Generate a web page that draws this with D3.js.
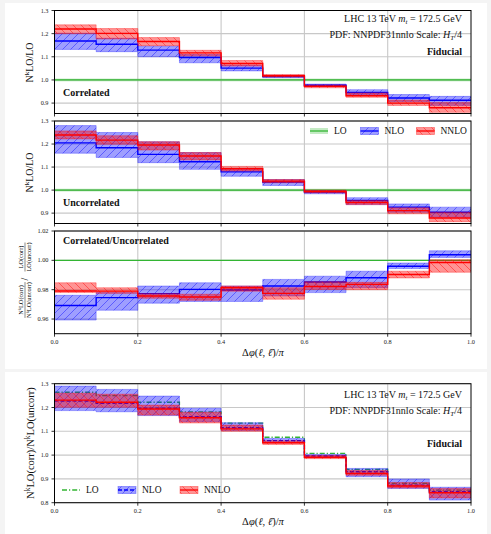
<!DOCTYPE html>
<html>
<head>
<meta charset="utf-8">
<script src="https://cdn.jsdelivr.net/npm/d3@7"></script>
<style>
  body { margin: 0; background: #f4f4f4; }
  svg { display: block; font-family: "Liberation Serif", "DejaVu Serif", serif; }
</style>
</head>
<body>
<svg id="chart" width="491" height="534"></svg>
<script>
// --- DATOS ---
const binEdges = [0, 0.1, 0.2, 0.3, 0.4, 0.5, 0.6, 0.7, 0.8, 0.9, 1.0];
const xTicks = [0, 0.2, 0.4, 0.6, 0.8, 1.0];
const ratioTicks = [0.9, 1.0, 1.1, 1.2, 1.3];
const corrTicks = [0.96, 0.98, 1.00, 1.02];
const fidTicks = [0.8, 0.9, 1.0, 1.1, 1.2, 1.3];

// [central, low, high] per bin
const corrNLO = [[1.168, 1.132, 1.202], [1.154, 1.122, 1.180], [1.129, 1.100, 1.146], [1.097, 1.074, 1.110], [1.051, 1.039, 1.064],
                 [1.015, 1.010, 1.020], [0.977, 0.971, 0.982], [0.946, 0.935, 0.958], [0.922, 0.907, 0.937], [0.912, 0.890, 0.929]];
const corrNNLO = [[1.220, 1.200, 1.238], [1.201, 1.177, 1.222], [1.166, 1.148, 1.183], [1.117, 1.104, 1.128], [1.071, 1.060, 1.084],
                  [1.018, 1.013, 1.023], [0.972, 0.966, 0.978], [0.932, 0.925, 0.944], [0.900, 0.890, 0.913], [0.880, 0.860, 0.903]];
const uncorrNLO = [[1.205, 1.160, 1.280], [1.184, 1.142, 1.250], [1.155, 1.119, 1.210], [1.123, 1.090, 1.163], [1.079, 1.060, 1.093],
                   [1.035, 1.020, 1.046], [0.991, 0.984, 0.998], [0.955, 0.937, 0.967], [0.926, 0.904, 0.940], [0.904, 0.882, 0.926]];
const uncorrNNLO = [[1.239, 1.222, 1.257], [1.217, 1.199, 1.236], [1.196, 1.174, 1.210], [1.148, 1.131, 1.163], [1.093, 1.083, 1.103],
                    [1.039, 1.032, 1.046], [0.994, 0.988, 1.000], [0.946, 0.937, 0.955], [0.911, 0.897, 0.923], [0.879, 0.863, 0.904]];
const ratioNLO = [[0.9692, 0.9593, 0.9762], [0.9746, 0.9660, 0.9780], [0.9773, 0.9708, 0.9825], [0.9802, 0.9720, 0.9847], [0.9798, 0.9720, 0.9825],
                  [0.9825, 0.9757, 0.9870], [0.9852, 0.9780, 0.9892], [0.9881, 0.9813, 0.9926], [0.9960, 0.9944, 0.9982], [1.0038, 1.0020, 1.0065]];
const ratioNNLO = [[0.9791, 0.9780, 0.9847], [0.9790, 0.9775, 0.9813], [0.9757, 0.9742, 0.9773], [0.9750, 0.9728, 0.9769], [0.9813, 0.9790, 0.9825],
                   [0.9775, 0.9735, 0.9813], [0.9822, 0.9802, 0.9854], [0.9836, 0.9800, 0.9850], [0.9903, 0.9880, 0.9926], [0.9985, 0.9919, 1.0004]];
const fidLO = [1.264, 1.250, 1.222, 1.182, 1.134, 1.075, 1.007, 0.940, 0.881, 0.853];
const fidNLO = [[1.227, 1.187, 1.290], [1.218, 1.182, 1.276], [1.197, 1.166, 1.248], [1.161, 1.140, 1.197], [1.115, 1.103, 1.136],
                [1.061, 1.052, 1.070], [0.996, 0.990, 1.003], [0.930, 0.909, 0.944], [0.874, 0.860, 0.900], [0.846, 0.811, 0.865]];
const fidNNLO = [[1.231, 1.201, 1.260], [1.222, 1.201, 1.256], [1.194, 1.168, 1.210], [1.157, 1.135, 1.180], [1.110, 1.100, 1.126],
                 [1.052, 1.045, 1.060], [0.991, 0.985, 0.998], [0.923, 0.915, 0.935], [0.870, 0.862, 0.885], [0.842, 0.820, 0.860]];
const loBand = [0.994, 1.006];

// --- CONFIGURACIÓN ---
const BLUE = "#0000ff", RED = "#ff0000", GREEN = "#33b533";
const svg = d3.select("#chart");
const x = d3.scaleLinear().domain([0, 1]).range([54.5, 471]);

// fondos tipo "tarjeta"
svg.append("rect").attr("x", 5).attr("y", 3).attr("width", 482).attr("height", 366).attr("fill", "#fff");
svg.append("rect").attr("x", 5).attr("y", 372).attr("width", 482).attr("height", 170).attr("fill", "#fff");

const defs = svg.append("defs");
function hatch(id, color, back) {
  const p = defs.append("pattern").attr("id", id).attr("patternUnits", "userSpaceOnUse")
    .attr("width", 8).attr("height", 8);
  p.append("path")
    .attr("d", back ? "M0,0L8,8M-2,6L2,10M6,-2L10,2" : "M0,8L8,0M-2,2L2,-2M6,10L10,6")
    .attr("stroke", color).attr("stroke-width", 0.7).attr("fill", "none");
}
hatch("hatchBlue", "rgba(40,40,255,0.8)", false);
hatch("hatchRed", "rgba(255,30,30,0.8)", true);

// texto con sub/superíndices
function mathText(text, parts, fs) {
  let cur = 0;
  parts.forEach(([s, k]) => {
    const flags = k.split(" ");
    const off = flags.includes("sup") ? -0.38 * fs : flags.includes("sub") ? 0.22 * fs : 0;
    const t = text.append("tspan").text(s).attr("dy", off - cur);
    if (off !== 0) t.attr("font-size", fs * 0.7);
    if (flags.includes("i")) t.attr("font-style", "italic");
    cur = off;
  });
  return text;
}

const lhcParts = [["LHC 13 TeV ", ""], ["m", "i"], ["t", "i sub"], [" = 172.5 GeV", ""]];
const pdfParts = [["PDF: NNPDF31nnlo Scale: ", ""], ["H", "i"], ["T", "i sub"], ["/4", ""]];
const xLabelParts = [["Δ", ""], ["φ", "i"], ["(", ""], ["ℓ", "i"], [", ", ""], ["ℓ\u0304", "i"], [")/", ""], ["π", "i"]];

const panels = [
  { id: "p1", top: 10.5, bottom: 113.5, domain: [0.855, 1.3], ticks: ratioTicks, fmt: ".1f",
    nlo: corrNLO, nnlo: corrNNLO, loBand: true },
  { id: "p2", top: 121, bottom: 223.5, domain: [0.855, 1.3], ticks: ratioTicks, fmt: ".1f",
    nlo: uncorrNLO, nnlo: uncorrNNLO, loBand: true },
  { id: "p3", top: 231, bottom: 333.7, domain: [0.95, 1.02], ticks: corrTicks, fmt: ".2f",
    nlo: ratioNLO, nnlo: ratioNNLO, loBand: false, xLabels: true },
  { id: "p4", top: 383.7, bottom: 502.7, domain: [0.8, 1.3], ticks: fidTicks, fmt: ".1f",
    nlo: fidNLO, nnlo: fidNNLO, fidLO: fidLO, xLabels: true, dashed: true }
];

function toSteps(vals, idx) {
  const pts = vals.map((v, i) => ({ x: binEdges[i], v: idx == null ? v : v[idx] }));
  pts.push({ x: binEdges[binEdges.length - 1], v: pts[pts.length - 1].v });
  return pts;
}

function drawPanel(p) {
  const y = d3.scaleLinear().domain(p.domain).range([p.bottom, p.top]);
  const g = svg.append("g");
  defs.append("clipPath").attr("id", "clip-" + p.id)
    .append("rect").attr("x", x(0)).attr("y", p.top).attr("width", x(1) - x(0)).attr("height", p.bottom - p.top);

  // rejilla
  g.selectAll(".hgrid").data(p.ticks).enter().append("line")
    .attr("x1", x(0)).attr("x2", x(1)).attr("y1", d => y(d)).attr("y2", d => y(d))
    .attr("stroke", "#c8c8c8").attr("stroke-width", 1.1);
  g.selectAll(".vgrid").data(xTicks.slice(1, -1)).enter().append("line")
    .attr("x1", d => x(d)).attr("x2", d => x(d)).attr("y1", p.top).attr("y2", p.bottom)
    .attr("stroke", "#c8c8c8").attr("stroke-width", 1.1);

  const plot = g.append("g").attr("clip-path", `url(#clip-${p.id})`);
  const line = d3.line().x(d => x(d.x)).y(d => y(d.v)).curve(d3.curveStepAfter);
  const area = d3.area().x(d => x(d.x)).y0(d => y(d.lo)).y1(d => y(d.hi)).curve(d3.curveStepAfter);

  // LO
  if (p.loBand) {
    plot.append("rect").attr("x", x(0)).attr("width", x(1) - x(0))
      .attr("y", y(loBand[1])).attr("height", y(loBand[0]) - y(loBand[1]))
      .attr("fill", "rgba(60,190,60,0.3)");
  }
  if (p.fidLO) {
    plot.append("path").datum(toSteps(p.fidLO)).attr("d", line)
      .attr("fill", "none").attr("stroke", GREEN).attr("stroke-width", 1.3).attr("stroke-dasharray", "5,2,1.2,2");
  } else {
    plot.append("line").attr("x1", x(0)).attr("x2", x(1)).attr("y1", y(1)).attr("y2", y(1))
      .attr("stroke", GREEN).attr("stroke-width", 1.3);
  }

  // NLO y NNLO
  const series = [
    { data: p.nlo, color: BLUE, fill: "rgba(0,0,255,0.38)", hatch: "hatchBlue", dash: p.dashed ? "4,2" : null },
    { data: p.nnlo, color: RED, fill: "rgba(255,0,0,0.42)", hatch: "hatchRed", dash: null }
  ];
  series.forEach(s => {
    const band = s.data.map((v, i) => ({ x: binEdges[i], lo: v[1], hi: v[2] }));
    band.push({ x: 1, lo: band[band.length - 1].lo, hi: band[band.length - 1].hi });
    plot.append("path").datum(band).attr("d", area)
      .attr("fill", s.fill).attr("stroke", s.fill).attr("stroke-width", 0.8);
    plot.append("path").datum(band).attr("d", area).attr("fill", `url(#${s.hatch})`);
    plot.append("path").datum(toSteps(s.data, 0)).attr("d", line)
      .attr("fill", "none").attr("stroke", s.color).attr("stroke-width", 1.4)
      .attr("stroke-dasharray", s.dash);
  });

  // marco
  g.append("rect").attr("x", x(0)).attr("y", p.top).attr("width", x(1) - x(0)).attr("height", p.bottom - p.top)
    .attr("fill", "none").attr("stroke", "#000").attr("stroke-width", 1);

  // ticks
  g.selectAll(".ytick").data(p.ticks).enter().append("line")
    .attr("x1", x(0) - 3).attr("x2", x(0)).attr("y1", d => y(d)).attr("y2", d => y(d)).attr("stroke", "#000").attr("stroke-width", 0.8);
  g.selectAll(".ylab").data(p.ticks).enter().append("text")
    .attr("x", x(0) - 6).attr("y", d => y(d) + 2).attr("text-anchor", "end")
    .attr("font-size", 6.3).attr("fill", "#222").text(d => d3.format(p.fmt)(d));
  g.selectAll(".xtick").data(xTicks).enter().append("line")
    .attr("x1", d => x(d)).attr("x2", d => x(d)).attr("y1", p.bottom).attr("y2", p.bottom + 3).attr("stroke", "#000").attr("stroke-width", 0.8);
  if (p.xLabels) {
    g.selectAll(".xlab").data(xTicks).enter().append("text")
      .attr("x", d => x(d)).attr("y", p.bottom + 10.5).attr("text-anchor", "middle")
      .attr("font-size", 6.3).attr("fill", "#222").text(d => d3.format(".1f")(d));
    mathText(g.append("text").attr("x", 263).attr("y", p.bottom + 22.5).attr("text-anchor", "middle")
      .attr("font-size", 10.5).attr("fill", "#111"), xLabelParts, 10.5);
  }
  return y;
}

panels.forEach(drawPanel);

// --- TEXTOS ---
function annot(xp, yp, parts, fs, opts = {}) {
  const t = svg.append("text").attr("x", xp).attr("y", yp).attr("font-size", fs).attr("fill", "#111")
    .attr("text-anchor", opts.anchor || "start");
  if (opts.bold) t.attr("font-weight", "bold");
  if (opts.rotate) t.attr("transform", `rotate(-90,${xp},${yp})`);
  return mathText(t, parts, fs);
}
annot(462, 22, lhcParts, 10, { anchor: "end" });
annot(462, 37.5, pdfParts, 10, { anchor: "end" });
annot(462, 55, [["Fiducial", ""]], 10, { anchor: "end", bold: true });
annot(63, 96, [["Correlated", ""]], 10, { bold: true });
annot(63, 206, [["Uncorrelated", ""]], 10, { bold: true });
annot(63, 243.5, [["Correlated/Uncorrelated", ""]], 10, { bold: true });
annot(462, 397.5, lhcParts, 10, { anchor: "end" });
annot(462, 413.5, pdfParts, 10, { anchor: "end" });
annot(462, 446.5, [["Fiducial", ""]], 10, { anchor: "end", bold: true });

// etiquetas Y
const nkloLo = [["N", ""], ["k", "sup"], ["LO/LO", ""]];
annot(33, 62.5, nkloLo, 10, { anchor: "middle", rotate: true });
annot(33, 172.5, nkloLo, 10, { anchor: "middle", rotate: true });
annot(34, 443, [["N", ""], ["k", "sup"], ["LO(corr)/N", ""], ["k", "sup"], ["LO(uncorr)", ""]], 10.5, { anchor: "middle", rotate: true });

// etiqueta Y compuesta del panel 3
const fracG = svg.append("g").attr("transform", "translate(25,279) rotate(-90)");
function fraction(cx, num, den) {
  const fs = 6.3;
  const tn = mathText(fracG.append("text").attr("x", cx).attr("y", -1.8).attr("text-anchor", "middle").attr("font-size", fs), num, fs);
  const td = mathText(fracG.append("text").attr("x", cx).attr("y", 6.2).attr("text-anchor", "middle").attr("font-size", fs), den, fs);
  const w = Math.max(tn.node().getComputedTextLength(), td.node().getComputedTextLength());
  fracG.append("line").attr("x1", cx - w / 2).attr("x2", cx + w / 2).attr("y1", 0).attr("y2", 0)
    .attr("stroke", "#111").attr("stroke-width", 0.5);
}
fraction(-21, [["N", ""], ["k", "sup"], ["LO(corr)", ""]], [["N", ""], ["k", "sup"], ["LO(uncorr)", ""]]);
fracG.append("text").attr("x", 0).attr("y", 3).attr("text-anchor", "middle").attr("font-size", 10).text("/");
fraction(22, [["LO(corr)", ""]], [["LO(uncorr)", ""]]);

// --- LEYENDAS ---
function legend(x0, yc, items) {
  items.forEach(it => {
    const lg = svg.append("g");
    if (it.kind === "lo") {
      if (it.band) lg.append("rect").attr("x", it.x).attr("y", yc - 3).attr("width", 18).attr("height", 6).attr("fill", "rgba(60,190,60,0.3)");
      lg.append("line").attr("x1", it.x).attr("x2", it.x + 18).attr("y1", yc).attr("y2", yc)
        .attr("stroke", GREEN).attr("stroke-width", 1.3).attr("stroke-dasharray", it.dash);
    } else {
      lg.append("rect").attr("x", it.x).attr("y", yc - 3.5).attr("width", 18).attr("height", 7)
        .attr("fill", it.fill).attr("stroke", it.fill).attr("stroke-width", 0.8);
      lg.append("rect").attr("x", it.x).attr("y", yc - 3.5).attr("width", 18).attr("height", 7).attr("fill", `url(#${it.hatch})`);
      lg.append("line").attr("x1", it.x).attr("x2", it.x + 18).attr("y1", yc).attr("y2", yc)
        .attr("stroke", it.color).attr("stroke-width", 1.3).attr("stroke-dasharray", it.dash);
    }
    lg.append("text").attr("x", it.x + 24).attr("y", yc + 3.3).attr("font-size", 9.5).attr("fill", "#111").text(it.label);
  });
}
legend(0, 131, [
  { kind: "lo", x: 310, label: "LO", band: true },
  { kind: "nlo", x: 360.5, label: "NLO", color: BLUE, fill: "rgba(0,0,255,0.38)", hatch: "hatchBlue" },
  { kind: "nnlo", x: 416.5, label: "NNLO", color: RED, fill: "rgba(255,0,0,0.42)", hatch: "hatchRed" }
]);
legend(0, 490, [
  { kind: "lo", x: 62, label: "LO", dash: "5,2,1.2,2" },
  { kind: "nlo", x: 118, label: "NLO", color: BLUE, fill: "rgba(0,0,255,0.38)", hatch: "hatchBlue", dash: "4,2" },
  { kind: "nnlo", x: 180, label: "NNLO", color: RED, fill: "rgba(255,0,0,0.42)", hatch: "hatchRed" }
]);
</script>
</body>
</html>
